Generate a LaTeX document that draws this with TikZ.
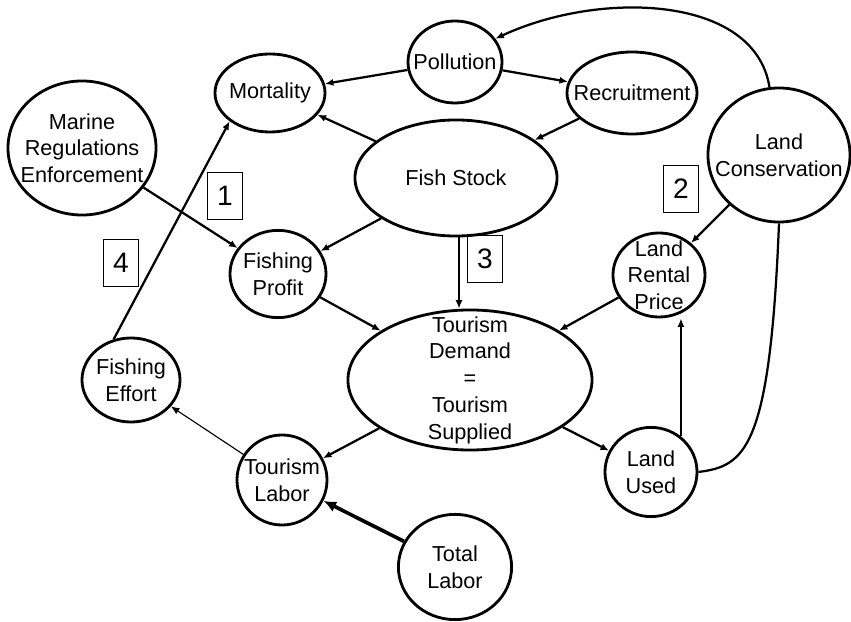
\documentclass[tikz,border=0pt]{standalone}
\usepackage{fontspec}
\setmainfont{Liberation Sans}
\usetikzlibrary{arrows.meta,shapes.geometric}
\def\lbl{\fontsize{15.4}{19}\selectfont}

\begin{document}
\begin{tikzpicture}[x=0.025cm, y=-0.025cm,
	blob/.style={draw, ellipse, line width=2pt, inner sep=0pt},
	every label/.append style={font=\lbl, align=center, inner sep=0pt},
	link/.style={line width=1.6pt, -{Latex[length=6pt,width=5pt]}},
	tag/.style={draw, line width=0.7pt, minimum width=0.875cm, minimum height=1.15cm, inner sep=0pt, font=\fontsize{20}{20}\selectfont}]
			%%%%% START %%%%%
			
			\useasboundingbox (0,0) rectangle (851,622);
			
			\node[blob, minimum width=2.75cm, minimum height=1.95cm, label=center:Mortality] (mort) at (270,93) {};
			\node[blob, minimum width=2.35cm, minimum height=2.05cm, label=center:Pollution] (poll) at (455,62) {};
			\node[blob, minimum width=3.25cm, minimum height=2.05cm, label=center:Recruitment] (recr) at (632,93) {};
			\node[blob, minimum width=5.05cm, minimum height=2.9cm, label=center:Fish Stock] (fish) at (456,178) {};
			\node[blob, minimum width=3.7cm, minimum height=3.35cm, label={center:Marine\\Regulations\\Enforcement}] (marine) at (82,148) {};
			\node[blob, minimum width=3.55cm, minimum height=3.35cm, label={center:Land\\Conservation}] (lc) at (779,155) {};
			
			\node[blob, minimum width=2.4cm, minimum height=2.18cm, label={center:Fishing\\Profit}] (fprof) at (278,274) {};
			\node[blob, minimum width=2.3cm, minimum height=2.1cm, label={center:Land\\Rental\\Price}] (lrp) at (659,275) {};
			\node[blob, minimum width=6.1cm, minimum height=3.5cm, label={center:Tourism\\Demand\\=\\Tourism\\Supplied}] (td) at (470,380) {};
			\node[blob, minimum width=2.45cm, minimum height=2.1cm, label={center:Fishing\\Effort}] (feff) at (131,380) {};
			
			\node[blob, minimum width=2.25cm, minimum height=2.25cm, label={center:Tourism\\Labor}] (tlab) at (282,480) {};
			\node[blob, minimum width=2.3cm, minimum height=2.23cm, label={center:Land\\Used}] (lu) at (651,472) {};
			\node[blob, minimum width=2.83cm, minimum height=2.63cm, label={center:Total\\Labor}] (total) at (455,567) {};
			
			\node[tag] (n1) at (225,196) {1};
			\node[tag] (n2) at (681,189) {2};
			\node[tag] (n3) at (485,259) {3};
			\node[tag] (n4) at (121,263) {4};
			
			\draw[link] (poll) -- (mort);
			\draw[link] (poll) -- (recr);
			\draw[link] (lc.98) .. controls (755,-5) and (600,-10) .. (poll.30);
			\draw[link] (recr) -- (fish);
			\draw[link] (fish) -- (mort);
			\draw[link] (fish) -- (fprof);
			\draw[link] (fish.south) ++(3,0) -- ([xshift=3*0.025cm]fish.south |- td.north);
			\draw[link] (marine) -- (fprof);
			\draw[link] (feff.113) -- (mort.215);
			\draw[link] (fprof) -- (td);
			\draw[link] (lc) -- (lrp);
			\draw[link] (lrp) -- (td);
			\draw[link] (td) -- (tlab);
			\draw[link] (td) -- (lu);
			\draw[link] (lu.50) -- (lu.50 |- lrp.south);
			\draw[line width=1.6pt] (lc.south) .. controls (770,450) and (745,466) .. (lu.east);
			\draw[link, line width=0.8pt] (tlab) -- (feff);
			\draw[line width=2.6pt, -{Latex[length=9pt,width=8pt]}] (total) -- (tlab);
			
			%%%%% END %%%%%
\end{tikzpicture}
\end{document}
